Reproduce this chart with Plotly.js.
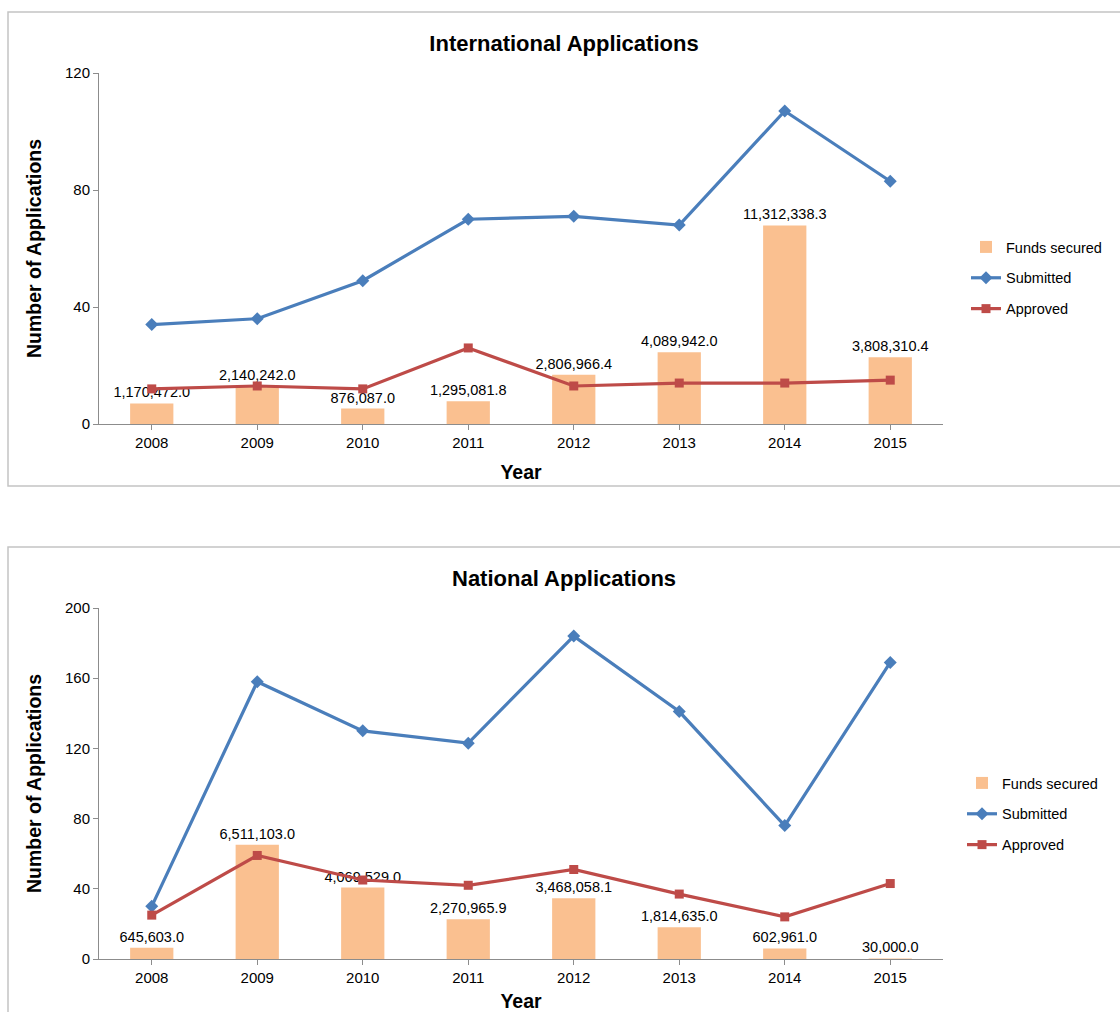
<!DOCTYPE html>
<html>
<head>
<meta charset="utf-8">
<script src="https://cdn.plot.ly/plotly-3.0.1.min.js"></script>
<style>
  html, body { margin: 0; padding: 0; background: #ffffff; }
  #chart { width: 1120px; height: 1012px; }
</style>
</head>
<body>
<div id="chart"></div>
<script>
// ---- Data ----
const years = ['2008', '2009', '2010', '2011', '2012', '2013', '2014', '2015'];

const intlFunds = [1170472.0, 2140242.0, 876087.0, 1295081.8, 2806966.4, 4089942.0, 11312338.3, 3808310.4];
const intlSubmitted = [34, 36, 49, 70, 71, 68, 107, 83];
const intlApproved = [12, 13, 12, 26, 13, 14, 14, 15];

const natFunds = [645603.0, 6511103.0, 4069529.0, 2270965.9, 3468058.1, 1814635.0, 602961.0, 30000.0];
const natSubmitted = [30, 158, 130, 123, 184, 141, 76, 169];
const natApproved = [25, 59, 45, 42, 51, 37, 24, 43];

const seriesNames = ['Funds secured', 'Submitted', 'Approved'];
const chartTitles = ['International Applications', 'National Applications'];
const xTitle = 'Year';
const yTitle = 'Number of Applications';

// ---- Style ----
const W = 1120, H = 1012;
const FONT = 'Arial, "Liberation Sans", sans-serif';
const BAR_COLOR = '#fac090';
const BLUE = '#4a7ebb';
const RED = '#be4b48';
const AXIS_COLOR = '#8c8c8c';

const px = v => v / W;           // x pixel -> paper
const py = v => 1 - v / H;       // y pixel -> paper

function barTrace(y, xa, ya, legend) {
  return {
    type: 'bar', x: years, y: y, name: seriesNames[0],
    xaxis: xa, yaxis: ya, legend: legend, legendgroup: 'f',
    marker: { color: BAR_COLOR },
    width: 0.41,
    texttemplate: '%{y:,.1f}', textposition: 'outside',
    constraintext: 'none', cliponaxis: false,
    textfont: { family: FONT, size: 14.5, color: '#000000' },
    hoverinfo: 'skip'
  };
}
function lineTrace(y, name, color, symbol, xa, ya, legend, grp) {
  return {
    type: 'scatter', mode: 'lines+markers', x: years, y: y, name: name,
    xaxis: xa, yaxis: ya, legend: legend, legendgroup: grp,
    line: { color: color, width: 3.2 },
    marker: { color: color, symbol: symbol, size: symbol === 'square' ? 9 : 10 },
    cliponaxis: false, hoverinfo: 'skip'
  };
}

const data = [
  barTrace(intlFunds, 'x', 'y', 'legend'),
  lineTrace(intlSubmitted, seriesNames[1], BLUE, 'diamond', 'x', 'y3', 'legend', 's'),
  lineTrace(intlApproved, seriesNames[2], RED, 'square', 'x', 'y3', 'legend', 'a'),
  barTrace(natFunds, 'x2', 'y2', 'legend2'),
  lineTrace(natSubmitted, seriesNames[1], BLUE, 'diamond', 'x2', 'y4', 'legend2', 's'),
  lineTrace(natApproved, seriesNames[2], RED, 'square', 'x2', 'y4', 'legend2', 'a')
];

const xDomain = [px(99), px(943)];
const topDomain = [py(424), py(73)];
const botDomain = [py(959), py(608)];

function xAxis(anchor, titleStandoff) {
  return {
    domain: xDomain, anchor: anchor, type: 'category',
    range: [-0.5, 7.5], fixedrange: true,
    showline: true, linecolor: AXIS_COLOR, linewidth: 1,
    ticks: 'outside', ticklen: 5, tickcolor: AXIS_COLOR,
    showgrid: false, zeroline: false,
    tickfont: { family: FONT, size: 15, color: '#000000' },
    title: { text: xTitle, font: { family: FONT, size: 19.5, color: '#000000', weight: 'bold' }, standoff: titleStandoff },
    automargin: false
  };
}
function fundsAxis(domain) {
  return { domain: domain, range: [0, 20000000], visible: false, fixedrange: true };
}
function countAxis(overlay, anchor, max) {
  return {
    overlaying: overlay, anchor: anchor, side: 'left',
    range: [0, max], dtick: 40, tick0: 0, fixedrange: true,
    showline: true, linecolor: AXIS_COLOR, linewidth: 1,
    ticks: 'outside', ticklen: 5, tickcolor: AXIS_COLOR,
    showgrid: false, zeroline: false,
    tickfont: { family: FONT, size: 15, color: '#000000' },
    title: { text: yTitle, font: { family: FONT, size: 19.5, color: '#000000', weight: 'bold' }, standoff: 18 },
    automargin: false
  };
}

const legendCommon = {
  xanchor: 'left', yanchor: 'top',
  font: { family: FONT, size: 14.5, color: '#000000' },
  bgcolor: 'rgba(0,0,0,0)', borderwidth: 0,
  tracegroupgap: 9, traceorder: 'grouped'
};

const layout = {
  width: W, height: H,
  margin: { l: 0, r: 0, t: 0, b: 0 },
  paper_bgcolor: '#ffffff', plot_bgcolor: 'rgba(0,0,0,0)',
  font: { family: FONT, color: '#000000' },
  showlegend: true,
  title: {
    text: chartTitles[0], x: px(564), xanchor: 'center', y: py(43), yanchor: 'middle',
    xref: 'paper', yref: 'paper',
    font: { family: FONT, size: 22, color: '#000000', weight: 'bold' }
  },
  xaxis: xAxis('y', 15),
  yaxis: fundsAxis(topDomain),
  yaxis3: countAxis('y', 'x', 120),
  xaxis2: xAxis('y2', 17),
  yaxis2: fundsAxis(botDomain),
  yaxis4: countAxis('y2', 'x2', 200),
  legend: Object.assign({ x: px(966), y: py(231) }, legendCommon),
  legend2: Object.assign({ x: px(962), y: py(767) }, legendCommon),
  bargap: 0.59,
  annotations: [{
    text: chartTitles[1], xref: 'paper', yref: 'paper',
    x: px(564), y: py(578), xanchor: 'center', yanchor: 'middle', showarrow: false,
    font: { family: FONT, size: 22, color: '#000000', weight: 'bold' }
  }],
  shapes: [
    { type: 'rect', xref: 'paper', yref: 'paper', x0: px(8), x1: px(1125), y0: py(486), y1: py(12),
      line: { color: '#c4c4c4', width: 1.5 }, fillcolor: 'rgba(0,0,0,0)', layer: 'below' },
    { type: 'rect', xref: 'paper', yref: 'paper', x0: px(8), x1: px(1125), y0: py(1030), y1: py(547),
      line: { color: '#c4c4c4', width: 1.5 }, fillcolor: 'rgba(0,0,0,0)', layer: 'below' }
  ]
};

Plotly.newPlot('chart', data, layout, { staticPlot: true, displayModeBar: false });
</script>
</body>
</html>
